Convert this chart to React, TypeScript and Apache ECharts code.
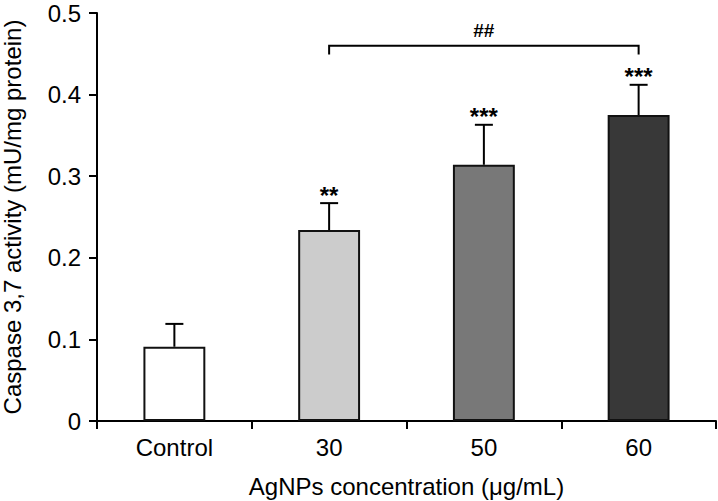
import React, { useEffect, useRef } from "react";
import * as echarts from "echarts";

const categories = ["Control", "30", "50", "60"];
const means = [0.091, 0.234, 0.314, 0.375];
const errorTops = [0.119, 0.267, 0.363, 0.412];
const stars = ["", "**", "***", "***"];
const barColors = ["#ffffff", "#cccccc", "#787878", "#383838"];
const yTicks = [0, 0.1, 0.2, 0.3, 0.4, 0.5];
const bracket = { from: 1, to: 3, level: 0.46, drop: 0.449, label: "##" };

const FONT = "Liberation Sans, Arial, sans-serif";

export default function App() {
  const ref = useRef<HTMLDivElement>(null);
  useEffect(() => {
    if (!ref.current) return;
    const chart = echarts.init(ref.current, null, { renderer: "svg" });
    chart.setOption({
      animation: false,
      backgroundColor: "#ffffff",
      grid: { left: 97, right: 2, top: 13, bottom: 80, containLabel: false, outerBoundsMode: "none" },
      xAxis: {
        type: "category",
        data: categories,
        boundaryGap: true,
        name: "AgNPs concentration (\u03bcg/mL)",
        nameLocation: "middle",
        nameGap: 53,
        nameTextStyle: { color: "#000", fontSize: 24, fontFamily: FONT },
        axisLine: { show: true, lineStyle: { color: "#000", width: 2 } },
        axisTick: { show: true, length: 8, alignWithLabel: false, lineStyle: { color: "#000", width: 2 } },
        axisLabel: { color: "#000", fontSize: 24, fontFamily: FONT, margin: 14 },
        splitLine: { show: false },
      },
      yAxis: {
        type: "value",
        min: yTicks[0],
        max: yTicks[yTicks.length - 1],
        interval: 0.1,
        name: "Caspase 3,7 activity (mU/mg protein)",
        nameLocation: "middle",
        nameGap: 73,
        nameRotate: 90,
        nameTextStyle: { color: "#000", fontSize: 24, fontFamily: FONT },
        axisLine: { show: true, lineStyle: { color: "#000", width: 2 } },
        axisTick: { show: true, length: 8, lineStyle: { color: "#000", width: 2 } },
        axisLabel: {
          color: "#000",
          fontSize: 24,
          lineHeight: 20,
          fontFamily: FONT,
          margin: 16,
          formatter: (v: number) => (v === 0 ? "0" : v.toFixed(1)),
        },
        splitLine: { show: false },
      },
      series: [
        {
          type: "bar",
          barWidth: "40%",
          data: means.map((v, i) => ({
            value: v,
            itemStyle: { color: barColors[i], borderColor: "#111", borderWidth: 2 },
          })),
          z: 2,
        },
        {
          type: "custom",
          z: 3,
          data: means.map((m, i) => [i, m, errorTops[i]]),
          renderItem: (params: any, api: any) => {
            const i = api.value(0);
            const p1 = api.coord([i, api.value(1)]);
            const p2 = api.coord([i, api.value(2)]);
            const half = 9;
            const children: any[] = [
              {
                type: "line",
                shape: { x1: p1[0], y1: p1[1], x2: p2[0], y2: p2[1] },
                style: { stroke: "#000", lineWidth: 2 },
              },
              {
                type: "line",
                shape: { x1: p2[0] - half, y1: p2[1], x2: p2[0] + half, y2: p2[1] },
                style: { stroke: "#000", lineWidth: 2 },
              },
            ];
            const s = stars[i];
            if (s) {
              children.push({
                type: "text",
                style: {
                  text: s,
                  x: p2[0],
                  y: p2[1] + 4,
                  align: "center",
                  verticalAlign: "bottom",
                  fill: "#000",
                  font: `bold 24px ${FONT}`,
                },
              });
            }
            return { type: "group", children };
          },
        },
        {
          type: "custom",
          z: 3,
          data: [[bracket.from, bracket.to, bracket.level, bracket.drop]],
          renderItem: (params: any, api: any) => {
            const a = api.coord([api.value(0), api.value(2)]);
            const b = api.coord([api.value(1), api.value(2)]);
            const d = api.coord([api.value(0), api.value(3)]);
            return {
              type: "group",
              children: [
                {
                  type: "polyline",
                  shape: { points: [[a[0], d[1]], [a[0], a[1]], [b[0], b[1]], [b[0], d[1]]] },
                  style: { stroke: "#000", lineWidth: 2, fill: "none" },
                },
                {
                  type: "text",
                  style: {
                    text: bracket.label,
                    x: (a[0] + b[0]) / 2,
                    y: a[1] - 6,
                    align: "center",
                    verticalAlign: "bottom",
                    fill: "#000",
                    font: `bold 19px ${FONT}`,
                  },
                },
              ],
            };
          },
        },
      ],
    });
    return () => chart.dispose();
  }, []);
  return (
    <div
      ref={ref}
      style={{ position: "fixed", left: 0, top: 0, width: 718, height: 501 }}
    />
  );
}
